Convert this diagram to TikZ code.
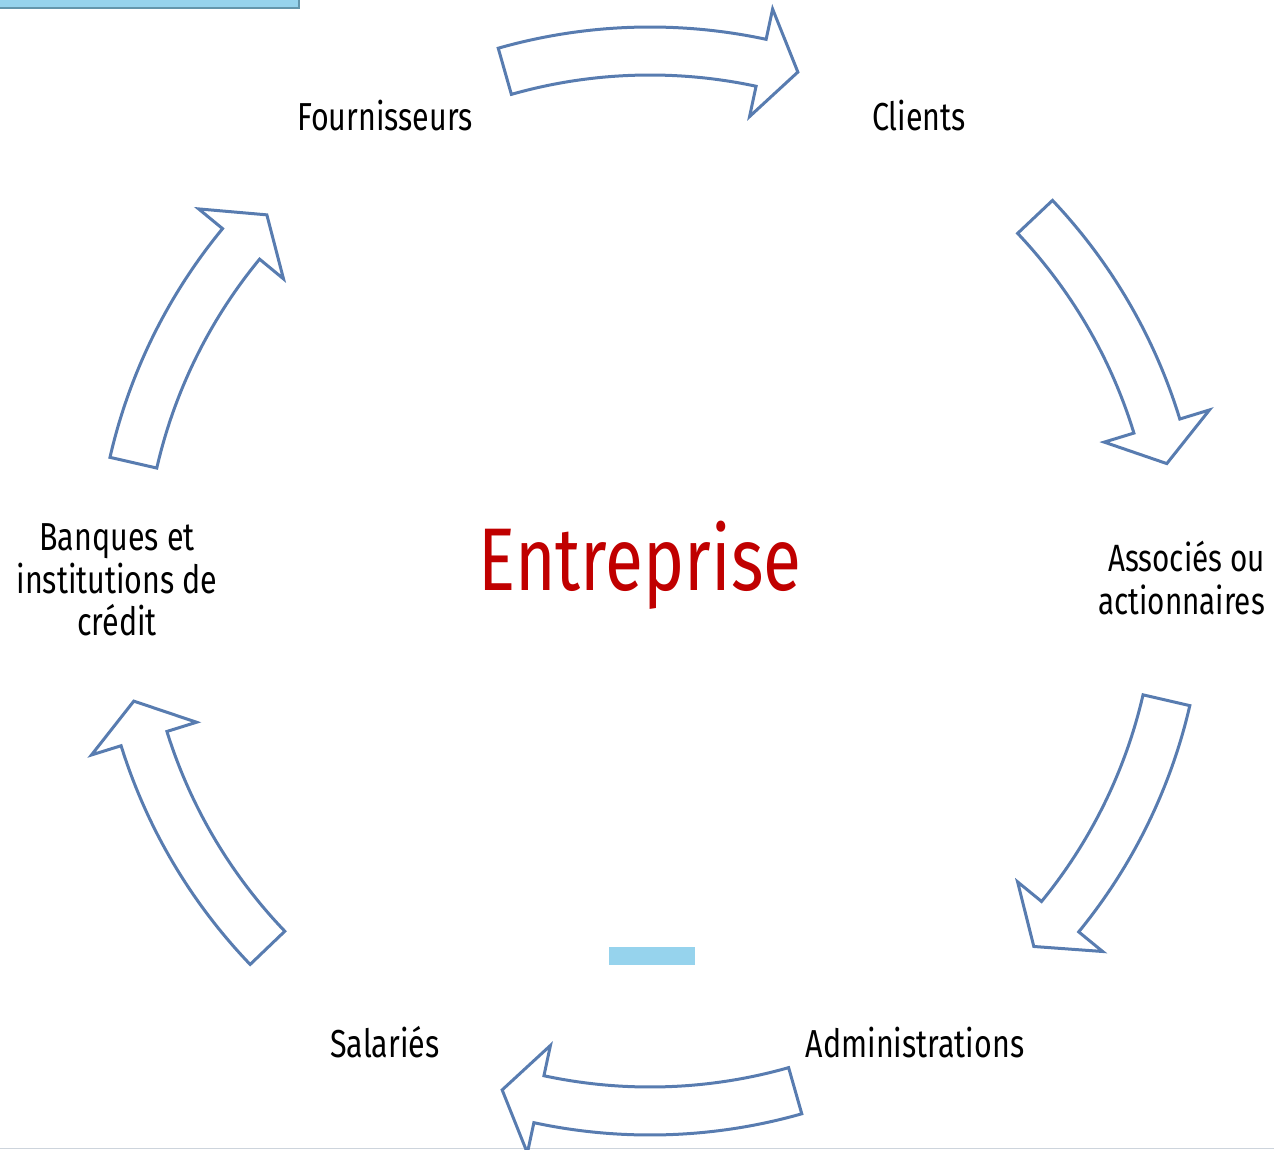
\documentclass[tikz,border=0pt]{standalone}
\usepackage{fontspec}
\setmainfont{Fira Sans}[FakeStretch=0.78]
\definecolor{arrowblue}{RGB}{88,124,176}
\definecolor{lightbar}{RGB}{150,211,237}
\definecolor{barborder}{RGB}{100,150,172}
\definecolor{entred}{RGB}{192,0,0}
\definecolor{edgegray}{RGB}{205,212,220}
\newcommand{\cyclearrow}[3]{%
  \draw[bigarrow] (#1:554pt) arc[start angle=#1, end angle=#2, radius=554pt]
    -- (#2:585pt) -- (#3:530pt) -- (#2:475pt) -- (#2:506pt)
    arc[start angle=#2, end angle=#1, radius=506pt] -- cycle;}
\begin{document}
\begin{tikzpicture}[x=1pt,y=1pt,
  bigarrow/.style={draw=arrowblue, line width=3pt, fill=white, line join=miter},
  lbl/.style={inner sep=0pt, font=\fontsize{39}{42.5}\selectfont, text=black},
  title/.style={inner sep=0pt, font=\fontsize{89}{98}\selectfont, text=entred}]
\useasboundingbox (0,0) rectangle (1274,-1150);
\clip (0,0) rectangle (1274,-1150);
% decorative bars
\draw[fill=lightbar, draw=barborder, line width=2.5pt] (-5,5) rectangle (299,-8);
\fill[lightbar] (609,-947) rectangle (695,-965);
\draw[edgegray, line width=1.5pt] (0,-1148.5) -- (1274,-1148.5);
% arrows
\begin{scope}[shift={(650,-581)}]
  \cyclearrow{105.9}{77.9}{73.8}
  \cyclearrow{43.4}{17.0}{12.8}
  \cyclearrow{-13.0}{-39.3}{-43.6}
  \cyclearrow{-74.1}{-102.1}{-106.2}
  \cyclearrow{-136.2}{-162.7}{-166.9}
  \cyclearrow{167.1}{140.5}{136.3}
\end{scope}
% labels
\node[lbl, anchor=base] (fourn) at (385,-131) {Fournisseurs};
\node[lbl, anchor=base] (clients) at (919,-131) {Clients};
\node[lbl, anchor=east, align=right, font=\fontsize{38}{42.5}\selectfont] (assoc) at (1265,-578) {Associés ou\\actionnaires};
\node[lbl, anchor=base] (admin) at (915,-1057) {Administrations};
\node[lbl, anchor=base] (salar) at (385,-1057) {Salariés};
\node[lbl, anchor=center, align=center] (banq) at (117,-580) {Banques et\\institutions de\\crédit};
\node[title, anchor=base] (entr) at (640,-590) {Entreprise};
\end{tikzpicture}
\end{document}
